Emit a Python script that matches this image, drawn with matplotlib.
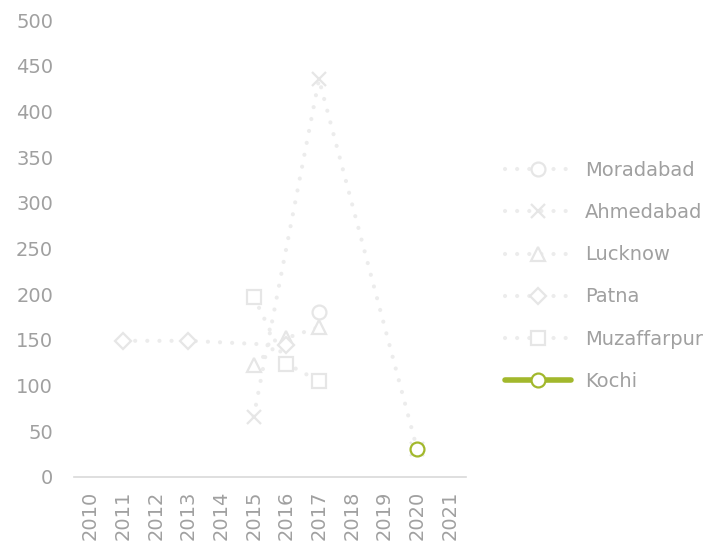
import numpy as np
import matplotlib
matplotlib.use("Agg")
import matplotlib.pyplot as plt

years = [str(y) for y in range(2010, 2022)]
nan = np.nan

moradabad = [nan, nan, nan, nan, nan, nan, nan, 180, nan, nan, nan, nan]
ahmedabad = [nan, nan, nan, nan, nan, 66, nan, 435, nan, nan, 31, nan]
lucknow = [nan, nan, nan, nan, nan, 123, 152, 164, nan, nan, nan, nan]
patna = [nan, 149, nan, 149, nan, nan, 144, nan, nan, nan, nan, nan]
muzaffarpur = [nan, nan, nan, nan, nan, 197, 124, 105, nan, nan, nan, nan]
kochi = [nan, nan, nan, nan, nan, nan, nan, nan, nan, nan, 31, nan]

series = [
    ("Moradabad", moradabad, "o"),
    ("Ahmedabad", ahmedabad, "x"),
    ("Lucknow", lucknow, "^"),
    ("Patna", patna, "D"),
    ("Muzaffarpur", muzaffarpur, "s"),
]

plt.rcParams["font.family"] = ["DejaVu Sans"]
faint_line = "#ECECEC"
faint_mark = "#E6E6E6"
green = "#A2B82C"
text_col = "#A0A0A0"

fig = plt.figure(figsize=(7.23, 5.45), dpi=100)
ax = fig.add_axes([0.1024, 0.1248, 0.5421, 0.8385])

x = np.arange(len(years))
for name, vals, mk in series:
    v = np.array(vals, dtype=float)
    m = ~np.isnan(v)
    ms = 8 if mk == "D" else 10
    ax.plot(x[m], v[m], linestyle=(0, (0.01, 2.9)), dash_capstyle="round",
            linewidth=3, color=faint_line, marker=mk, markersize=ms,
            markerfacecolor="white" if mk != "x" else faint_mark,
            markeredgecolor=faint_mark, markeredgewidth=1.6, label=name)

k = np.array(kochi, dtype=float)
m = ~np.isnan(k)
ax.plot(x[m], k[m], linestyle="-", linewidth=4, color=green, marker="o",
        markersize=10, markerfacecolor="white", markeredgecolor=green,
        markeredgewidth=1.6, label="Kochi", zorder=5, solid_capstyle="round")

ax.set_xlim(-0.5, len(years) - 0.5)
ax.set_ylim(0, 500)
ax.set_yticks(range(0, 501, 50))
ax.set_xticks(x)
ax.set_xticklabels(years, rotation=90)
ax.tick_params(axis="both", length=0, labelsize=14, colors=text_col)
ax.tick_params(axis="y", pad=15)
ax.tick_params(axis="x", pad=10)
for s in ["top", "right", "left"]:
    ax.spines[s].set_visible(False)
ax.spines["bottom"].set_color("#D9D9D9")
ax.spines["bottom"].set_linewidth(1.2)

leg = ax.legend(loc="center left", bbox_to_anchor=(1.055, 0.44), frameon=False,
                fontsize=14, handlelength=3.4, handletextpad=0.7,
                labelspacing=1.19, labelcolor=text_col)

fig.savefig("out.png", dpi=100)
